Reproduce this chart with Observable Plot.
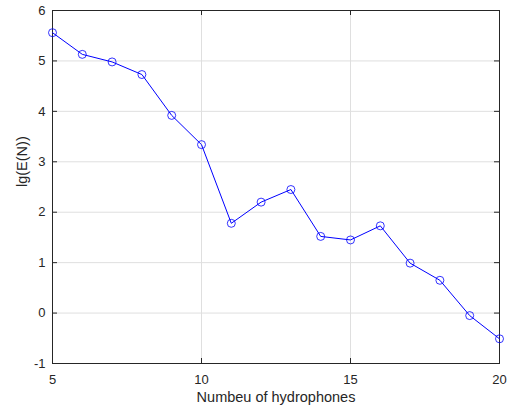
<!DOCTYPE html>
<html>
<head>
<meta charset="utf-8">
<script src="https://cdn.jsdelivr.net/npm/d3@7"></script>
<script src="https://cdn.jsdelivr.net/npm/@observablehq/plot@0.6"></script>
<style>
  html, body { margin: 0; padding: 0; background: #fff; }
  #chart svg { display: block; }
</style>
</head>
<body>
<div id="chart"></div>
<script>
const hydrophones = [5, 6, 7, 8, 9, 10, 11, 12, 13, 14, 15, 16, 17, 18, 19, 20];
const lgE = [5.56, 5.13, 4.98, 4.73, 3.92, 3.34, 1.78, 2.20, 2.45, 1.52, 1.45, 1.73, 0.99, 0.65, -0.05, -0.51];
const xTicks = [5, 10, 15, 20];
const yTicks = [-1, 0, 1, 2, 3, 4, 5, 6];
const xLabel = "Numbeu of hydrophones";
const yLabel = "lg(E(N))";

const data = hydrophones.map((n, i) => ({n, v: lgE[i]}));

const W = 511, H = 409;
const mL = 52, mR = 12, mT = 10, mB = 46;
const pw = W - mL - mR, ph = H - mT - mB;
const tick = 5;
const ink = "#262626";
const fmt = d => String(d);

const chart = Plot.plot({
  width: W,
  height: H,
  marginLeft: mL,
  marginRight: mR,
  marginTop: mT,
  marginBottom: mB,
  style: {fontFamily: "'Liberation Sans', Arial, Helvetica, sans-serif", fontSize: "13px", color: ink, background: "#fff"},
  x: {domain: [5, 20]},
  y: {domain: [-1, 6]},
  marks: [
    Plot.gridX(xTicks, {stroke: "#dfdfdf", strokeOpacity: 1}),
    Plot.gridY(yTicks, {stroke: "#dfdfdf", strokeOpacity: 1}),
    Plot.tickX(xTicks, {x: d => d, insetTop: ph - tick, stroke: ink}),
    Plot.tickX(xTicks, {x: d => d, insetBottom: ph - tick, stroke: ink}),
    Plot.tickY(yTicks, {y: d => d, insetRight: pw - tick, stroke: ink}),
    Plot.tickY(yTicks, {y: d => d, insetLeft: pw - tick, stroke: ink}),
    Plot.frame({stroke: ink, strokeWidth: 1}),
    Plot.axisX(xTicks, {tickSize: 0, tickPadding: 11, fontSize: 13, fill: ink, label: null, tickFormat: fmt}),
    Plot.axisY(yTicks, {tickSize: 0, tickPadding: 7, fontSize: 13, fill: ink, label: null, tickFormat: fmt}),
    Plot.line(data, {x: "n", y: "v", stroke: "#0000ff", strokeWidth: 1}),
    Plot.dot(data, {x: "n", y: "v", r: 4, stroke: "#0000ff", strokeWidth: 0.8, fill: "none"}),
    Plot.text([xLabel], {frameAnchor: "bottom", lineAnchor: "middle", dy: 34, text: d => d, fontSize: 14.5, fill: ink}),
    Plot.text([yLabel], {frameAnchor: "left", lineAnchor: "middle", dx: -30, rotate: -90, text: d => d, fontSize: 14.5, fill: ink})
  ]
});
document.getElementById("chart").appendChild(chart);
</script>
</body>
</html>
